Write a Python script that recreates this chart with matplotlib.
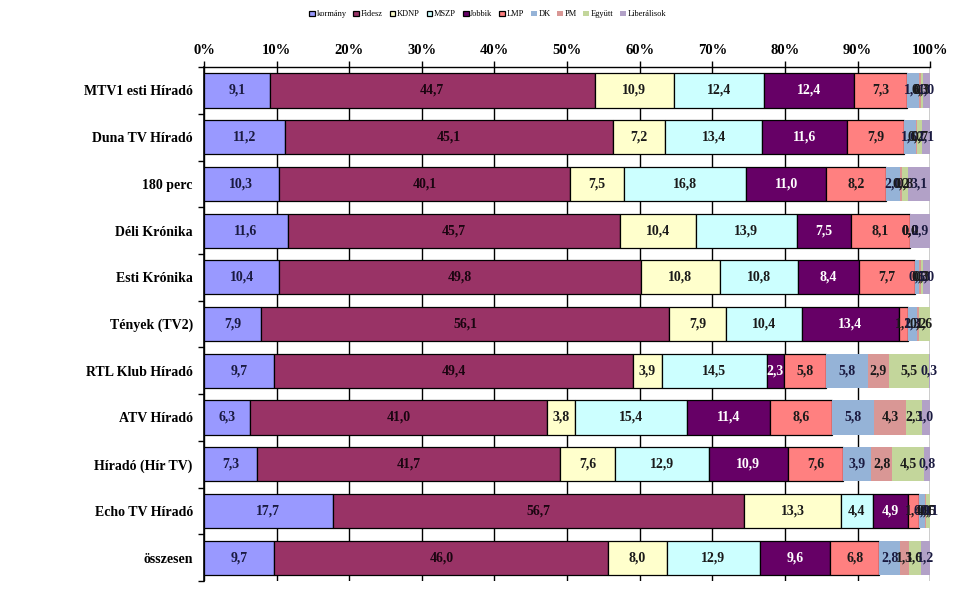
import matplotlib.pyplot as plt
import numpy as np

categories = ['MTV1 esti Híradó', 'Duna TV Híradó', '180 perc', 'Déli Krónika',
              'Esti Krónika', 'Tények (TV2)', 'RTL Klub Híradó', 'ATV Híradó',
              'Híradó (Hír TV)', 'Echo TV Híradó', 'összesen']

series_names = ['kormány', 'Fidesz', 'KDNP', 'MSZP', 'Jobbik', 'LMP', 'DK', 'PM',
                'Együtt', 'Liberálisok']

kormany = [9.1, 11.2, 10.3, 11.6, 10.4, 7.9, 9.7, 6.3, 7.3, 17.7, 9.7]
fidesz = [44.7, 45.1, 40.1, 45.7, 49.8, 56.1, 49.4, 41.0, 41.7, 56.7, 46.0]
kdnp = [10.9, 7.2, 7.5, 10.4, 10.8, 7.9, 3.9, 3.8, 7.6, 13.3, 8.0]
mszp = [12.4, 13.4, 16.8, 13.9, 10.8, 10.4, 14.5, 15.4, 12.9, 4.4, 12.9]
jobbik = [12.4, 11.6, 11.0, 7.5, 8.4, 13.4, 2.3, 11.4, 10.9, 4.9, 9.6]
lmp = [7.3, 7.9, 8.2, 8.1, 7.7, 1.2, 5.8, 8.6, 7.6, 1.4, 6.8]
dk = [1.6, 1.6, 2.0, 0.0, 0.5, 1.3, 5.8, 5.8, 3.9, 0.9, 2.8]
pm = [0.3, 0.2, 0.2, 0.0, 0.3, 0.2, 2.9, 4.3, 2.8, 0.1, 1.3]
egyutt = [0.3, 0.7, 0.8, 0.0, 0.3, 1.6, 5.5, 2.3, 4.5, 0.5, 1.6]
liberalisok = [1.0, 1.1, 3.1, 2.9, 1.0, 0.0, 0.3, 1.0, 0.8, 0.1, 1.2]

values = [kormany, fidesz, kdnp, mszp, jobbik, lmp, dk, pm, egyutt, liberalisok]
colors = ['#9999FF', '#993366', '#FFFFCC', '#CCFFFF', '#660066', '#FF8080',
          '#95B3D7', '#D99795', '#C3D69B', '#B2A1C7']
text_colors = ['#1a1a40', '#1a0510', '#1a1a1a', '#1a1a1a', 'white', '#1a1a1a',
               '#1a1a40', '#1a1a1a', '#1a1a1a', '#1a1a40']
# segments drawn with a black outline in the original
edged = [True, True, True, True, True, True, False, False, False, False]

plt.rcParams['font.family'] = ['Liberation Serif', 'DejaVu Serif']

fig = plt.figure(figsize=(9.62, 5.92), dpi=100)
ax = fig.add_axes([0.212, 0.0186, 0.755, 0.868])

y = np.arange(len(categories))
left = np.zeros(len(categories))
for name, vals, col, tcol, edge in zip(series_names, values, colors, text_colors, edged):
    vals = np.array(vals)
    bars = ax.barh(y, vals, left=left, height=0.73, color=col, label=name,
                   edgecolor='black' if edge else col, linewidth=0.9 if edge else 0,
                   zorder=3)
    ax.bar_label(bars, labels=[f'{v:.1f}'.replace('.', ',') for v in vals],
                 label_type='center', color=tcol, fontsize=10,
                 fontweight='bold', zorder=4)
    left += vals

ax.set_xlim(0, 100)
ax.set_ylim(len(categories) - 0.5, -0.5)
ax.xaxis.tick_top()
ax.set_xticks(np.arange(0, 101, 10))
ax.set_xticklabels([f'{t}%' for t in range(0, 101, 10)], fontsize=10.5, fontweight='bold')
ax.tick_params(axis='x', direction='out', length=4, width=1, pad=3)
ax.grid(axis='x', color='black', linewidth=1, zorder=0)

ax.set_yticks(y)
ax.set_yticklabels(categories, fontsize=10, fontweight='bold')
ax.set_yticks(np.arange(-0.5, len(categories), 1), minor=True)
ax.tick_params(axis='y', which='major', length=0, pad=8)
ax.tick_params(axis='y', which='minor', direction='out', length=4, width=1)

for side in ['right', 'bottom']:
    ax.spines[side].set_visible(False)
ax.spines['top'].set_linewidth(1)
ax.spines['left'].set_linewidth(1.2)

fig.legend(loc='upper center', bbox_to_anchor=(0.507, 0.995), ncol=10, frameon=False,
           fontsize=6, handlelength=0.7, handleheight=0.7, handletextpad=0.2,
           columnspacing=0.8)

fig.savefig('out.png', dpi=100)
